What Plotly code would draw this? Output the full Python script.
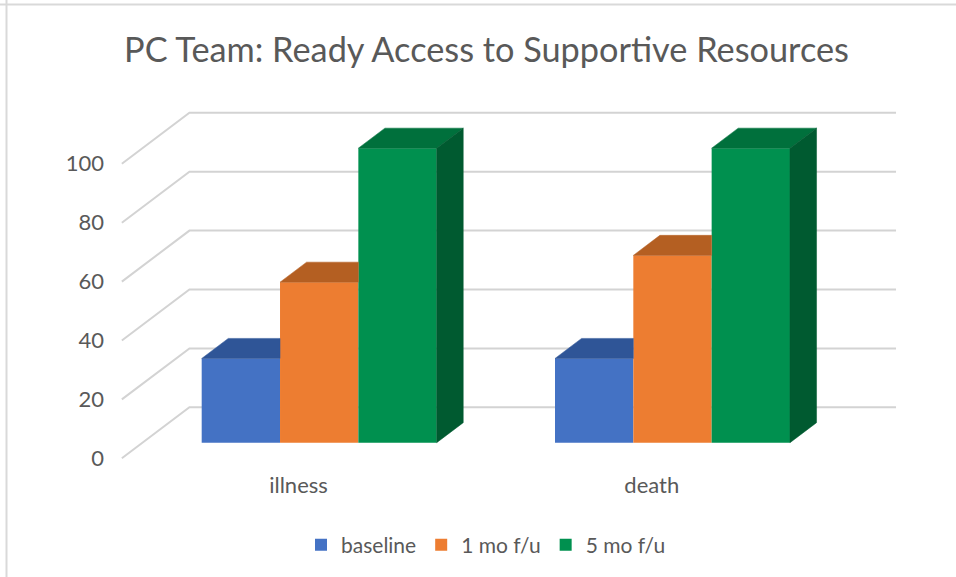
import plotly.graph_objects as go

# ---------------- data ----------------
categories = ["illness", "death"]
series_names = ["baseline", "1 mo f/u", "5 mo f/u"]
baseline = [28.6, 28.6]
mo1_fu = [54.5, 63.6]
mo5_fu = [100, 100]
y_ticks = [0, 20, 40, 60, 80, 100]
title_text = "PC Team: Ready Access to Supportive Resources"

series_values = [baseline, mo1_fu, mo5_fu]

# ---------------- styles ----------------
front_colors = ["#4472C4", "#ED7D31", "#00904F"]
top_colors = ["#2F5597", "#B45F22", "#00703C"]
side_colors = ["#203864", "#8A4516", "#005A30"]
text_color = "#595959"
grid_color = "#D3D3D3"
FONT = "Lato, 'Open Sans', sans-serif"

# ---------------- geometry ----------------
W, H = 956, 577
ML, MR, MT, MB = 108, 46, 100, 107
plot_w = W - ML - MR
plot_h = H - MT - MB
x_range = [-0.5392, 1.7308]
y_range = [-3.97, 121.66]

DEPTH_X = 0.1913      # full floor depth, in category units
DEPTH_Y = 17.32       # full floor depth, in value units
BAR_FRONT = 0.306     # depth fraction where bar fronts sit
BAR_DEPTH = 0.393     # depth fraction of the bars themselves
BAR_W = 0.2217        # bar width in category units

base = BAR_FRONT * DEPTH_Y
bdx = BAR_DEPTH * DEPTH_X
bdy = BAR_DEPTH * DEPTH_Y
shift_x = BAR_FRONT * DEPTH_X
n_series = len(series_values)

fig = go.Figure()

# bar front faces
for j, (name, vals) in enumerate(zip(series_names, series_values)):
    xs = [i + (j - (n_series - 1) / 2) * BAR_W + shift_x for i in range(len(categories))]
    fig.add_trace(go.Bar(
        x=xs, y=vals, base=base, width=BAR_W, name=name,
        marker=dict(color=front_colors[j], line=dict(width=0)),
        hoverinfo="skip",
    ))

# top and side faces (3D look)
for i in range(len(categories)):
    for j, vals in enumerate(series_values):
        v = vals[i]
        xc = i + (j - (n_series - 1) / 2) * BAR_W + shift_x
        xl, xr = xc - BAR_W / 2, xc + BAR_W / 2
        t = base + v
        hidden_right = j < n_series - 1 and series_values[j + 1][i] >= v + bdy
        if hidden_right:
            px = [xl, xr, xr, xl + bdx, xl]
            py = [t, t, t + bdy, t + bdy, t]
        else:
            px = [xl, xr, xr + bdx, xl + bdx, xl]
            py = [t, t, t + bdy, t + bdy, t]
        fig.add_trace(go.Scatter(
            x=px, y=py, mode="lines", fill="toself", fillcolor=top_colors[j],
            line=dict(color=top_colors[j], width=0.5), hoverinfo="skip", showlegend=False))
        if not hidden_right:
            sx = [xr, xr, xr + bdx, xr + bdx, xr]
            sy = [base, t, t + bdy, base + bdy, base]
            fig.add_trace(go.Scatter(
                x=sx, y=sy, mode="lines", fill="toself", fillcolor=side_colors[j],
                line=dict(color=side_colors[j], width=0.5), hoverinfo="skip", showlegend=False))

# back-wall / side-wall gridlines
x_left = -0.5
x_right_back = len(categories) - 0.5 + DEPTH_X
shapes = []
for v in y_ticks:
    path = (f"M {x_left},{v} L {x_left + DEPTH_X},{v + DEPTH_Y} "
            f"L {x_right_back},{v + DEPTH_Y}")
    shapes.append(dict(type="path", path=path, xref="x", yref="y", layer="below",
                       line=dict(color=grid_color, width=2)))

# chart-area border fragments (paper coords computed from pixels)
def px_to_paper_x(p):
    return (p - ML) / plot_w

def py_to_paper_y(p):
    return 1 - (p - MT) / plot_h

shapes.append(dict(type="line", xref="paper", yref="paper",
                   x0=px_to_paper_x(0), x1=px_to_paper_x(W),
                   y0=py_to_paper_y(4.5), y1=py_to_paper_y(4.5),
                   line=dict(color="#D9D9D9", width=2)))
shapes.append(dict(type="line", xref="paper", yref="paper",
                   x0=px_to_paper_x(6.5), x1=px_to_paper_x(6.5),
                   y0=py_to_paper_y(0), y1=py_to_paper_y(H),
                   line=dict(color="#D9D9D9", width=2)))

fig.update_layout(
    width=W, height=H,
    margin=dict(l=ML, r=MR, t=MT, b=MB, autoexpand=False),
    paper_bgcolor="white", plot_bgcolor="white",
    barmode="overlay",
    font=dict(family=FONT, color=text_color, size=22),
    title=dict(text=title_text, x=486.5 / W, xref="container",
               xanchor="center", y=1 - 50 / H, yref="container", yanchor="middle",
               font=dict(family=FONT, size=34.3, color=text_color)),
    xaxis=dict(range=x_range, tickmode="array", tickvals=list(range(len(categories))),
               ticktext=categories, showgrid=False, zeroline=False, showline=False,
               ticks="", tickfont=dict(size=22, color=text_color), fixedrange=True),
    yaxis=dict(range=y_range, tickmode="array", tickvals=y_ticks,
               showgrid=False, zeroline=False, showline=False,
               ticks="", ticklabelstandoff=3,
               tickfont=dict(size=22, color=text_color), fixedrange=True),
    legend=dict(orientation="h", xref="container", yref="container",
                x=486 / W, xanchor="center", y=1 - 545 / H, yanchor="middle",
                font=dict(size=21, color=text_color), traceorder="normal"),
    shapes=shapes,
    showlegend=True,
)

fig.write_html("out.html", config={"displayModeBar": False},
               post_script="document.body.style.margin='0px';document.body.style.padding='0px';")
